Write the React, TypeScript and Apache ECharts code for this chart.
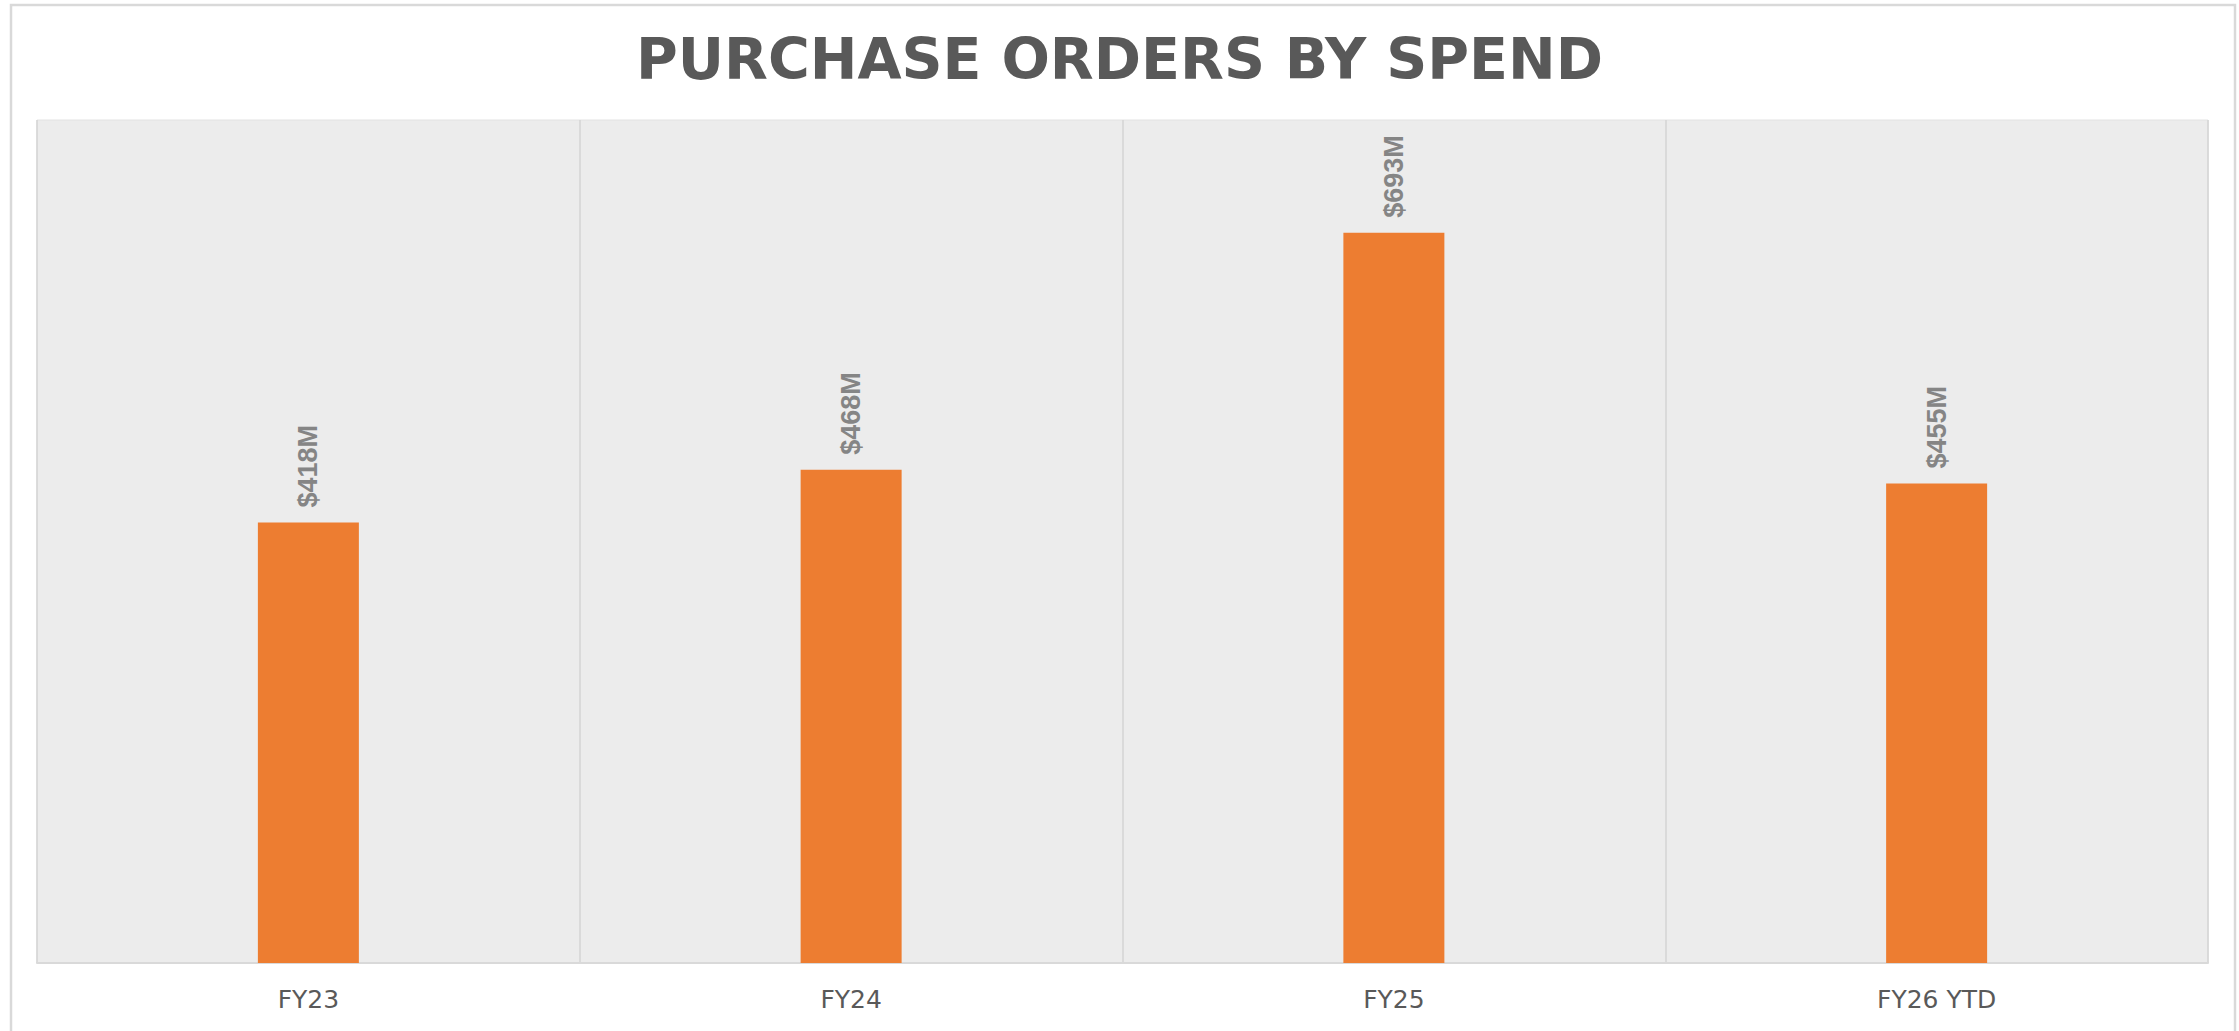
import React, { useEffect, useRef } from "react";
import * as echarts from "echarts";

const categories = ["FY23", "FY24", "FY25", "FY26 YTD"];
const spendValues = [418, 468, 693, 455];
const titleText = "PURCHASE ORDERS BY SPEND";

export default function App() {
  const ref = useRef<HTMLDivElement>(null);

  useEffect(() => {
    if (!ref.current) return;
    const chart = echarts.init(ref.current, undefined, { renderer: "svg" });
    chart.setOption({
      animation: false,
      backgroundColor: "#ffffff",
      title: {
        text: titleText,
        left: "center",
        top: 25,
        textStyle: {
          fontFamily: "DejaVu Sans",
          fontWeight: "bold",
          fontSize: 57,
          color: "#595959",
        },
      },
      graphic: [
        {
          type: "rect",
          shape: { x: 11, y: 5, width: 2224, height: 1040 },
          style: { fill: "none", stroke: "#d9d9d9", lineWidth: 2.5 },
          silent: true,
        },
      ],
      grid: {
        left: 37,
        right: 31,
        top: 120,
        bottom: 68,
        show: true,
        backgroundColor: "#ececec",
        borderColor: "#e2e2e2",
        borderWidth: 1,
      },
      xAxis: {
        type: "category",
        data: categories,
        boundaryGap: true,
        axisTick: { show: false },
        axisLine: { show: true, lineStyle: { color: "#d9d9d9", width: 2 } },
        splitLine: { show: true, lineStyle: { color: "#d4d4d4", width: 1.5 } },
        axisLabel: {
          fontFamily: "DejaVu Sans",
          fontSize: 25,
          color: "#595959",
          margin: 24,
        },
      },
      yAxis: {
        type: "value",
        min: 0,
        max: 800,
        show: false,
        splitLine: { show: false },
      },
      series: [
        {
          type: "bar",
          data: spendValues,
          barWidth: 101,
          itemStyle: { color: "#ED7D31" },
          label: {
            show: true,
            position: "top",
            rotate: 90,
            align: "left",
            verticalAlign: "middle",
            distance: 15,
            formatter: (p: any) => "$" + p.value + "M",
            fontFamily: "Liberation Sans",
            fontWeight: "bold",
            fontSize: 27,
            color: "#858585",
          },
        },
      ],
    });
    return () => chart.dispose();
  }, []);

  return (
    <div
      ref={ref}
      style={{ position: "fixed", left: 0, top: 0, width: 2239, height: 1031 }}
    />
  );
}
